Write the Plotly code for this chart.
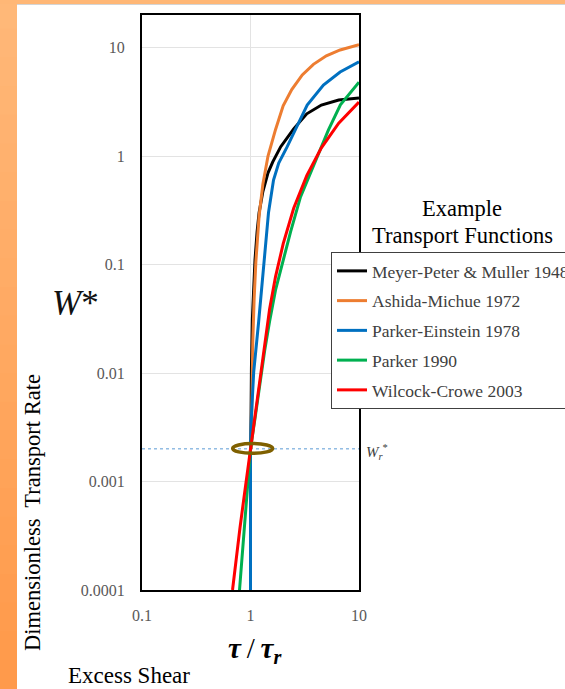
import plotly.graph_objects as go

# Canvas and plot-area geometry (pixels)
W, H = 565, 689
L, R, T, B = 142, 206, 15, 99
PW, PH = W - L - R, H - T - B

def px(x):
    return (x - L) / PW

def py(y):
    return (H - B - y) / PH

SERIF = "Liberation Serif"

# Excess shear tau/tau_r and dimensionless transport rate W* for each function
mpm_x = [1.006, 1.01, 1.02, 1.04, 1.07, 1.1, 1.15, 1.2, 1.3, 1.45, 1.6, 1.9, 2.5, 3.3, 4.5, 6.5, 10]
mpm_y = [0.002, 0.0039, 0.011, 0.031, 0.07, 0.11, 0.2, 0.30, 0.47, 0.70, 0.88, 1.22, 1.78, 2.45, 2.95, 3.28, 3.42]

am_x = [1.015, 1.03, 1.05, 1.08, 1.12, 1.2, 1.3, 1.45, 1.7, 2.0, 2.4, 3.0, 3.8, 5.0, 6.7, 10]
am_y = [0.002, 0.0073, 0.0195, 0.048, 0.105, 0.28, 0.55, 1.0, 1.75, 2.9, 4.1, 5.6, 7.0, 8.4, 9.5, 10.6]

pe_x = [1.0, 1.0, 1.02, 1.07, 1.19, 1.33, 1.465, 1.63, 1.82, 2.18, 2.6, 3.33, 4.7, 6.7, 10]
pe_y = [0.0001, 0.002, 0.004, 0.0102, 0.030, 0.11, 0.30, 0.60, 0.86, 1.22, 1.74, 2.95, 4.5, 5.95, 7.4]

p90_x = [0.792, 0.85, 0.9, 0.95, 1.0, 1.1, 1.2, 1.35, 1.5, 1.7, 2.06, 2.34, 2.89, 3.35, 4.14, 5.23, 6.74, 10]
p90_y = [0.0001, 0.000245, 0.00052, 0.00103, 0.002, 0.0038, 0.0072, 0.016, 0.030, 0.058, 0.122, 0.20, 0.42, 0.60, 0.98, 1.74, 2.96, 4.8]

wc_x = [0.683, 0.75, 0.8, 0.9, 1.0, 1.1, 1.2, 1.35, 1.5, 1.7, 2.0, 2.5, 3.3, 4.5, 6.5, 10]
wc_y = [0.0001, 0.00023, 0.000375, 0.00091, 0.002, 0.0041, 0.0079, 0.019, 0.039, 0.077, 0.155, 0.33, 0.66, 1.19, 2.01, 3.14]

series = [
    ("Meyer-Peter & Muller 1948", mpm_x, mpm_y, "#000000"),
    ("Ashida-Michue 1972", am_x, am_y, "#ED7D31"),
    ("Parker-Einstein 1978", pe_x, pe_y, "#0070C0"),
    ("Parker 1990", p90_x, p90_y, "#00B050"),
    ("Wilcock-Crowe 2003", wc_x, wc_y, "#FF0000"),
]

# Reference transport rate and its shear ratio
ref_x, ref_y = 1.0, 0.002

x_ticks = [0.1, 1, 10]
x_labels = ["0.1", "1", "10"]
y_ticks = [0.0001, 0.001, 0.01, 0.1, 1, 10]
y_labels = ["0.0001", "0.001", "0.01", "0.1", "1", "10"]

fig = go.Figure()
for i, (name, xs, ys, col) in enumerate(series):
    fig.add_trace(go.Scatter(
        x=xs, y=ys, mode="lines", name=name, legendgroup=f"g{i}",
        line=dict(color=col, width=3),
    ))

shapes = []
# orange frame with a soft vertical gradient
n = 24
for k in range(n):
    t = k / (n - 1)
    r, g, b = 255, int(184 - 30 * t), int(120 - 45 * t)
    col = f"rgb({r},{g},{b})"
    y_top = H * k / n
    y_bot = H * (k + 1) / n + 1
    shapes.append(dict(type="rect", xref="paper", yref="paper",
                       x0=px(0), x1=px(17), y0=py(y_bot), y1=py(y_top),
                       fillcolor=col, line=dict(width=0), layer="below"))
shapes.append(dict(type="rect", xref="paper", yref="paper",
                   x0=px(0), x1=px(W), y0=py(4), y1=py(0),
                   fillcolor="rgb(255,183,118)", line=dict(width=0), layer="below"))
shapes.append(dict(type="line", xref="paper", yref="paper",
                   x0=px(17), x1=px(W), y0=py(4.5), y1=py(4.5),
                   line=dict(color="#d4d4d4", width=1), layer="below"))
# reference rate dotted line
shapes.append(dict(type="line", xref="x", yref="y", x0=0.1, x1=10, y0=ref_y, y1=ref_y,
                   line=dict(color="#5B9BD5", width=1, dash="dot"), layer="below"))
# ring around the reference point
shapes.append(dict(type="circle", xref="x", yref="y",
                   x0=ref_x / 1.46, x1=ref_x * 1.6, y0=ref_y / 1.1, y1=ref_y * 1.12,
                   line=dict(color="#7F6000", width=3.5), layer="above"))

def label(x, y, text, size, color="#000000", **kw):
    return dict(xref="paper", yref="paper", x=px(x), y=py(y), text=text,
                xanchor="center", yanchor="middle", showarrow=False,
                font=dict(family=SERIF, size=size, color=color), **kw)

annotations = [
    label(75, 303, "<i>W</i>*", 35, "#111111"),
    label(32, 513, "Dimensionless  Transport Rate", 22.5, textangle=-90),
    label(129, 675, "Excess Shear", 23),
    label(255, 650, "<b><i>τ</i></b>\u2009/\u2009<b><i>τ<sub>r</sub></i></b>", 29),
    label(462, 209, "Example", 22.5),
    label(462, 235, "Transport Functions", 22.5),
    label(377, 452, "<i>W</i><sub><i>r</i></sub><sup>*</sup>", 15, "#404040"),
]

fig.update_layout(
    width=W, height=H,
    margin=dict(l=L, r=R, t=T, b=B, autoexpand=False),
    paper_bgcolor="white", plot_bgcolor="white",
    showlegend=True,
    legend=dict(x=px(331), y=py(252), xanchor="left", yanchor="top",
                bgcolor="white", bordercolor="#404040", borderwidth=1,
                font=dict(family=SERIF, size=17.5, color="#404040"),
                tracegroupgap=4, itemwidth=30, traceorder="grouped"),
    shapes=shapes, annotations=annotations,
    font=dict(family=SERIF),
)
fig.update_xaxes(type="log", range=[-1, 1], tickvals=x_ticks, ticktext=x_labels,
                 showgrid=True, gridcolor="#e3e3e3", gridwidth=1,
                 showline=True, linecolor="#000000", linewidth=2, mirror=True,
                 ticks="", ticklabelstandoff=10,
                 tickfont=dict(family=SERIF, size=16, color="#595959"), zeroline=False)
fig.update_yaxes(type="log", range=[-4, 1.3], tickvals=y_ticks, ticktext=y_labels,
                 showgrid=True, gridcolor="#e3e3e3", gridwidth=1,
                 showline=True, linecolor="#000000", linewidth=2, mirror=True,
                 ticks="", ticklabelstandoff=12,
                 tickfont=dict(family=SERIF, size=16, color="#595959"), zeroline=False)

fig.write_html("out.html")
